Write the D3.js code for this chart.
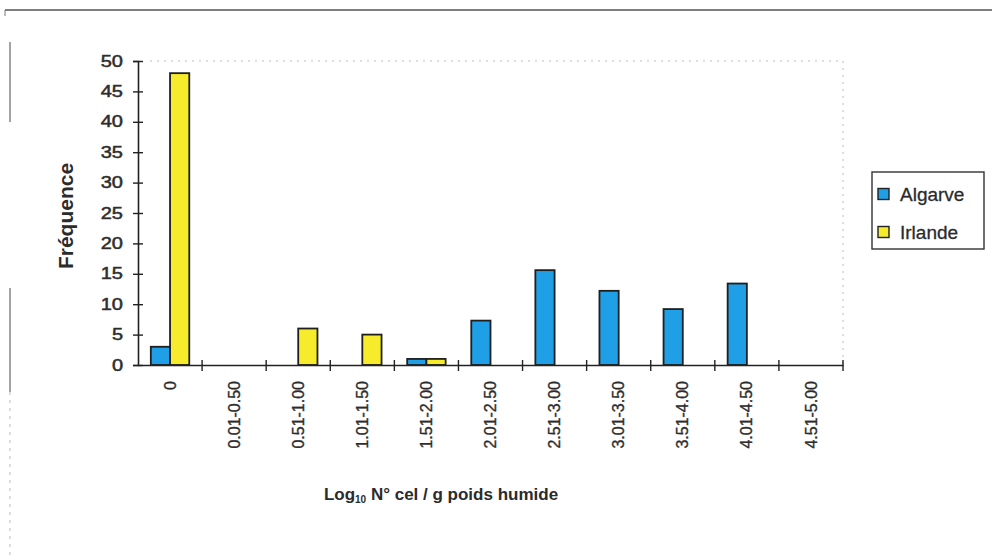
<!DOCTYPE html>
<html>
<head>
<meta charset="utf-8">
<script src="https://cdnjs.cloudflare.com/ajax/libs/d3/7.8.5/d3.min.js"></script>
<style>
  html, body { margin: 0; padding: 0; background: #fff; }
  svg { display: block; }
  text { font-family: "Liberation Sans", Arial, sans-serif; fill: #2b2b2b; }
</style>
</head>
<body>
<svg id="chart" width="992" height="560"></svg>
<script>
// Frequency distribution of log10 cell counts per gram wet weight
const categories = ["0", "0.01-0.50", "0.51-1.00", "1.01-1.50", "1.51-2.00", "2.01-2.50",
                    "2.51-3.00", "3.01-3.50", "3.51-4.00", "4.01-4.50", "4.51-5.00"];
const algarve = [3, 0, 0, 0, 1, 7.3, 15.6, 12.2, 9.2, 13.4, 0];
const irlande = [48, 0, 6, 5, 1, 0, 0, 0, 0, 0, 0];
const seriesNames = ["Algarve", "Irlande"];
const seriesColors = ["#1f9fe6", "#f6ec2c"];
const yTicks = [0, 5, 10, 15, 20, 25, 30, 35, 40, 45, 50];

const svg = d3.select("#chart");
const plot = { left: 138, right: 843, top: 61, bottom: 365 };

// page frame (scanned sheet edges)
svg.append("line").attr("x1", 5).attr("x2", 992).attr("y1", 10).attr("y2", 10)
  .attr("stroke", "#555").attr("stroke-width", 1.5);
svg.append("line").attr("x1", 5).attr("x2", 5).attr("y1", 10).attr("y2", 16)
  .attr("stroke", "#777").attr("stroke-width", 1);
svg.append("line").attr("x1", 10).attr("x2", 10).attr("y1", 42).attr("y2", 122)
  .attr("stroke", "#666").attr("stroke-width", 1.2);
svg.append("line").attr("x1", 10).attr("x2", 10).attr("y1", 288).attr("y2", 392)
  .attr("stroke", "#666").attr("stroke-width", 1.2);
svg.append("line").attr("x1", 10).attr("x2", 10).attr("y1", 392).attr("y2", 560)
  .attr("stroke", "#bbb").attr("stroke-width", 1).attr("stroke-dasharray", "3,5");

const x0 = d3.scaleBand().domain(categories).range([plot.left, plot.right])
  .paddingInner(0.4).paddingOuter(0.2);
const x1 = d3.scaleBand().domain(seriesNames).range([0, x0.bandwidth()]);
const y = d3.scaleLinear().domain([0, 50]).range([plot.bottom, plot.top]);

// faint dotted plot-area border (top and right)
svg.append("path")
  .attr("d", `M${plot.left + 12},${plot.top}H${plot.right}V${plot.bottom}`)
  .attr("fill", "none").attr("stroke", "#bdbdbd").attr("stroke-width", 1)
  .attr("stroke-dasharray", "2,5");

// bars
const rows = categories.map((c, i) => ({ cat: c, vals: [algarve[i], irlande[i]] }));
const groups = svg.append("g").selectAll("g").data(rows).join("g")
  .attr("transform", d => `translate(${x0(d.cat)},0)`);
groups.selectAll("rect")
  .data(d => d.vals.map((v, k) => ({ v, k })).filter(e => e.v > 0))
  .join("rect")
  .attr("x", e => x1(seriesNames[e.k]))
  .attr("y", e => y(e.v))
  .attr("width", x1.bandwidth())
  .attr("height", e => y(0) - y(e.v))
  .attr("fill", e => seriesColors[e.k])
  .attr("stroke", "#1f1f1f").attr("stroke-width", 1.8);

// y axis
const yAxis = svg.append("g").attr("transform", `translate(${plot.left},0)`)
  .call(d3.axisLeft(y).tickValues(yTicks).tickSize(5).tickPadding(12));
yAxis.select(".domain").attr("stroke", "#222").attr("stroke-width", 1.6);
yAxis.selectAll(".tick line").attr("x1", -5).attr("x2", 5)
  .attr("stroke", "#222").attr("stroke-width", 1.4);
yAxis.selectAll(".tick text")
  .attr("font-size", 16).attr("fill", "#333")
  .attr("font-family", "'DejaVu Sans', sans-serif")
  .attr("stroke", "#333").attr("stroke-width", 0.5)
  .attr("transform", "scale(1.25,1)")
  .attr("x", -12);

// x axis: ticks sit on category boundaries
const boundaries = categories.map(c => x0(c) - x0.step() * x0.paddingInner() / 2).slice(1)
  .concat([plot.right]);
const xAxis = svg.append("g").attr("transform", `translate(0,${plot.bottom})`)
  .call(d3.axisBottom(x0).tickSize(0).tickPadding(0));
xAxis.select(".domain").attr("stroke", "#222").attr("stroke-width", 1.6);
xAxis.selectAll(".tick text")
  .attr("font-size", 16).attr("fill", "#333")
  .attr("stroke", "#333").attr("stroke-width", 0.35)
  .attr("text-anchor", "end")
  .attr("dy", "0.35em")
  .attr("transform", "translate(0,16) rotate(-90)");
svg.append("g").selectAll("line").data(boundaries).join("line")
  .attr("x1", d => d).attr("x2", d => d)
  .attr("y1", plot.bottom - 5).attr("y2", plot.bottom + 6)
  .attr("stroke", "#222").attr("stroke-width", 1.4);

// axis titles
svg.append("text")
  .attr("transform", "translate(73,216) rotate(-90)")
  .attr("text-anchor", "middle")
  .attr("font-size", 21).attr("font-weight", "bold").attr("fill", "#3a3a3a")
  .text("Fréquence");

const xt = svg.append("text")
  .attr("x", 441).attr("y", 500)
  .attr("text-anchor", "middle")
  .attr("font-size", 17).attr("font-weight", "bold").attr("fill", "#3a3a3a");
xt.append("tspan").text("Log");
xt.append("tspan").attr("font-size", 10).attr("dy", 3).text("10");
xt.append("tspan").attr("dy", -3).text(" N° cel / g poids humide");

// legend
const legend = svg.append("g").attr("transform", "translate(872,172)");
legend.append("rect").attr("width", 112).attr("height", 77)
  .attr("fill", "#fff").attr("stroke", "#333").attr("stroke-width", 1.4);
const items = legend.selectAll("g.item").data(seriesNames).join("g")
  .attr("class", "item")
  .attr("transform", (d, i) => `translate(6,${22 + i * 38})`);
items.append("rect").attr("x", 0).attr("y", -5.5).attr("width", 11).attr("height", 11)
  .attr("fill", (d, i) => seriesColors[i]).attr("stroke", "#222").attr("stroke-width", 1.4);
items.append("text").attr("x", 22).attr("dy", "0.35em")
  .attr("font-size", 19).attr("fill", "#2b2b2b")
  .attr("stroke", "#2b2b2b").attr("stroke-width", 0.3)
  .text(d => d);
</script>
</body>
</html>
